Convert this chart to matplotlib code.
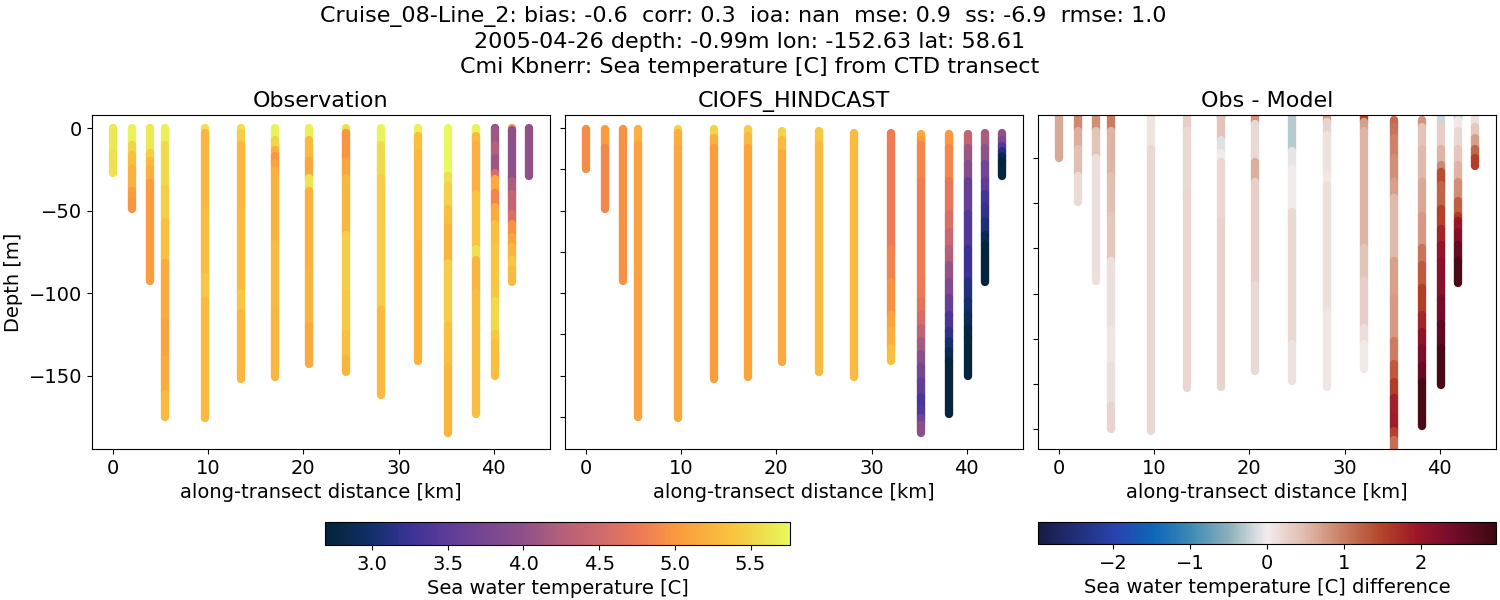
import matplotlib
matplotlib.use("Agg")
import matplotlib.pyplot as plt
from matplotlib.collections import LineCollection
from matplotlib.colors import LinearSegmentedColormap, Normalize
from matplotlib.cm import ScalarMappable

# along-transect position of each cast [km]
dist = [0, 2.0, 3.87, 5.48, 9.68, 13.48, 16.98, 20.6, 24.5, 28.2, 32.0, 35.2, 38.1, 40.1, 41.9, 43.7]

# each cast: band edges [m] and the value of each band
obs_depth = [
    [0, -15, -27],
    [0, -10, -16, -25, -38, -44, -49],
    [0, -15, -20, -25, -33, -92.5],
    [0, -10, -37, -57, -82, -118, -140, -161, -175],
    [0, -3, -50, -90, -105, -176],
    [0, -3, -10, -50, -100, -112, -152],
    [0, -7, -13, -17, -21, -26, -70, -110, -151],
    [0, -7, -20, -30, -38, -87, -120, -143],
    [0, -3, -20, -30, -65, -100, -125, -140, -148],
    [0, -10, -30, -60, -110, -162],
    [0, -5, -15, -70, -141],
    [0, -29, -35, -49, -60, -82, -120, -145, -185],
    [0, -5, -10, -40, -73, -80, -100, -173],
    [0, -1, -10, -18, -27, -31, -39, -48, -58, -72, -105, -125, -130, -150],
    [0, -1, -32, -40, -52, -58, -66, -72, -80, -86, -93.5],
    [0, -29],
]
obs_temp = [
    [5.65, 5.6],
    [5.72, 5.5, 5.35, 5.2, 5.05, 4.98],
    [5.65, 5.45, 5.3, 5.2, 5.03],
    [5.7, 5.55, 5.45, 5.35, 5.17, 5.1, 5.17, 5.3],
    [5.6, 5.28, 5.32, 5.4, 5.3],
    [5.6, 5.45, 5.27, 5.3, 5.4, 5.27],
    [5.72, 5.5, 5.2, 4.98, 5.1, 5.22, 5.3, 5.27],
    [5.7, 5.3, 5.12, 5.62, 5.22, 5.25, 5.17],
    [5.6, 4.98, 5.1, 5.27, 5.45, 5.42, 5.35, 5.25],
    [5.72, 5.55, 5.47, 5.45, 5.3],
    [5.7, 5.35, 5.27, 5.22],
    [5.75, 5.6, 5.5, 5.35, 5.25, 5.45, 5.35, 5.25],
    [5.72, 5.3, 5.2, 5.38, 5.6, 5.25, 5.32],
    [3.95, 4.1, 4.25, 4.1, 4.6, 5.15, 4.85, 5.15, 5.35, 5.4, 5.55, 5.4, 5.35],
    [5.0, 3.98, 4.2, 4.4, 4.6, 4.95, 5.1, 5.25, 5.4, 5.3],
    [4.0],
]

model_depth = [
    [-0.4, -25],
    [-0.4, -12, -49],
    [-0.4, -92.5],
    [-0.4, -10, -175],
    [-0.4, -3, -12, -176],
    [-0.4, -6, -12, -152],
    [-0.4, -5, -12, -151],
    [-1.8, -7, -15, -142],
    [-1.8, -10, -148],
    [-2.8, -151],
    [-2.8, -73, -93, -113, -123, -133, -141],
    [-3.7, -7, -10, -32, -93, -105, -113, -121, -129, -137, -145, -153, -163, -170, -176, -180, -185],
    [-3.7, -12, -32, -52, -63, -73, -83, -93, -103, -113, -123, -129, -135, -141, -173],
    [-3.7, -12, -22, -32, -52, -73, -93, -105, -113, -121, -127, -150],
    [-2.8, -12, -22, -32, -40, -48, -56, -65, -71, -93.5],
    [-2.8, -7, -11, -14, -17, -20, -29],
]
model_temp = [
    [4.92],
    [5.05, 4.88],
    [4.95],
    [5.2, 5.08],
    [5.5, 5.2, 5.13],
    [5.5, 5.2, 5.05],
    [5.45, 5.3, 5.1],
    [5.5, 5.3, 5.15],
    [5.42, 5.3],
    [5.3],
    [4.78, 4.85, 4.95, 5.1, 5.2, 5.35],
    [5.15, 5.0, 4.88, 4.8, 4.76, 4.68, 4.55, 4.35, 4.15, 3.95, 3.75, 3.55, 3.35, 3.4, 3.7, 3.95],
    [5.0, 4.88, 4.72, 4.6, 4.45, 4.25, 4.05, 3.85, 3.6, 3.35, 3.2, 3.02, 2.85, 2.72],
    [4.4, 4.1, 3.9, 3.6, 3.4, 3.25, 3.1, 3.0, 2.88, 2.76, 2.72],
    [4.2, 4.0, 3.7, 3.5, 3.3, 3.2, 3.05, 2.85, 2.72],
    [4.0, 3.8, 3.4, 3.1, 2.85, 2.72],
]

diff_depth = [
    [0, -25],
    [0, -10, -20, -35, -49.5],
    [0, -10, -25, -93],
    [0, -10, -35, -57, -82, -120, -140, -162, -175],
    [0, -20, -176],
    [0, -10, -45, -152.5],
    [0, -3, -15, -22, -27, -60, -151.5],
    [0, -6, -27, -38, -95, -143],
    [0, -2, -21, -31, -55, -128, -148.5],
    [0, -5, -12, -35, -40, -110, -151.5],
    [0, -5, -10, -75, -93, -119, -128, -141.5],
    [-4, -8, -14, -25, -38, -47, -82, -103, -126, -139, -149, -158, -169, -176, -181, -186],
    [-4, -8, -20, -38, -57, -75, -84, -97, -112, -121, -130, -140, -149, -173],
    [-1.2, -8, -20, -29, -33, -40, -53, -64, -73, -82, -103, -117, -130, -150.5],
    [-1.2, -4, -10, -20, -29, -38, -49, -57, -60, -66, -73, -82, -94],
    [0, -8, -14, -20, -25, -29.5],
]
diff_temp = [
    [0.65],
    [0.9, 0.6, 0.45, 0.18],
    [0.85, 0.4, 0.12],
    [1.0, 0.55, 0.45, 0.35, 0.12, 0.05, 0.12, 0.25],
    [0.08, 0.2],
    [0.3, 0.2, 0.22],
    [1.4, 0.4, -0.1, 0.02, 0.2, 0.25],
    [0.8, 0.2, 0.6, 0.3, 0.2],
    [0.2, -0.3, -0.05, 0.0, 0.2, 0.1],
    [0.7, 0.25, 0.1, 0.03, 0.12, 0.05],
    [1.5, 0.7, 0.55, 0.4, 0.3, 0.15, 0.03],
    [1.15, 1.05, 0.95, 0.85, 0.7, 0.5, 0.7, 0.75, 1.0, 1.3, 1.55, 1.85, 1.9, 1.5, 1.1],
    [0.8, 0.4, 0.5, 0.65, 0.75, 1.05, 1.3, 1.55, 1.8, 2.1, 2.35, 2.55, 2.85],
    [-0.2, 0.3, 0.55, 0.9, 1.4, 1.2, 1.5, 1.8, 2.05, 2.2, 2.4, 2.65, 2.85],
    [-0.3, 0.03, 0.2, 0.35, 0.55, 0.85, 1.25, 1.6, 2.0, 2.25, 2.6, 2.85],
    [0.1, 0.35, 0.7, 1.2, 1.55],
]

temp_range = (2.69, 5.76)
diff_range = (-2.98, 2.98)

title = ("Cruise_08-Line_2: bias: -0.6  corr: 0.3  ioa: nan  mse: 0.9  ss: -6.9  rmse: 1.0  \n"
         "2005-04-26 depth: -0.99m lon: -152.63 lat: 58.61\n"
         "Cmi Kbnerr: Sea temperature [C] from CTD transect")

# cmocean is not available, so its two maps are rebuilt by eye
thermal = LinearSegmentedColormap.from_list("thermal", [
    (0.0, "#04233a"), (0.1, "#12306b"), (0.18, "#3a3295"), (0.25, "#5a3a9a"),
    (0.43, "#8f5289"), (0.51, "#b5607a"), (0.6, "#d26b6b"), (0.68, "#ee7a55"),
    (0.76, "#fb9a3d"), (0.87, "#f9c13f"), (0.95, "#eee050"), (1.0, "#e7fa5a")])
balance = LinearSegmentedColormap.from_list("balance", [
    (0.0, "#181c43"), (0.17, "#2a43b0"), (0.25, "#0d66b8"), (0.33, "#3a88b5"),
    (0.42, "#8fb2bc"), (0.47, "#d0d8db"), (0.5, "#f1ecec"), (0.58, "#e0bdb0"),
    (0.67, "#c97b60"), (0.75, "#b5442a"), (0.83, "#9c1628"), (0.9, "#780c2c"),
    (1.0, "#3c0911")])

plt.rcParams["font.size"] = 14


def draw_casts(ax, depths, values, cmap, norm):
    for x, edges, vals in zip(dist, depths, values):
        segs = [[(x, edges[i]), (x, edges[i + 1])] for i in range(len(vals))]
        lc = LineCollection(segs, cmap=cmap, norm=norm, linewidths=6, capstyle="round")
        lc.set_array(vals)
        ax.add_collection(lc)


fig = plt.figure(figsize=(15, 6), dpi=100)
W, H = 1500, 600


def px_axes(left, top, right, bottom):
    return fig.add_axes([left / W, 1 - bottom / H, (right - left) / W, (bottom - top) / H])


ax1 = px_axes(92, 115, 550, 449)
ax2 = px_axes(565, 115, 1023, 449)
ax3 = px_axes(1038, 115, 1496, 449)

temp_norm = Normalize(*temp_range)
diff_norm = Normalize(*diff_range)

draw_casts(ax1, obs_depth, obs_temp, thermal, temp_norm)
draw_casts(ax2, model_depth, model_temp, thermal, temp_norm)
draw_casts(ax3, diff_depth, diff_temp, balance, diff_norm)

ax1.set_title("Observation", fontsize=16)
ax2.set_title("CIOFS_HINDCAST", fontsize=16)
ax3.set_title("Obs - Model", fontsize=16)

for ax in (ax1, ax2, ax3):
    ax.set_xlim(-2.18, 45.9)
    ax.set_xlabel("along-transect distance [km]")

ax1.set_ylim(-194.5, 8)
ax1.set_yticks([0, -50, -100, -150])
ax1.set_yticklabels(["0", "\u221250", "\u2212100", "\u2212150"])
ax1.set_ylabel("Depth [m]", labelpad=4)

ax2.set_ylim(-194.5, 8)
ax2.set_yticks([0, -25, -50, -75, -100, -125, -150, -175])
ax2.set_yticklabels([])

ax3.set_ylim(-186, -1.2)
ax3.set_yticks([-25, -50, -75, -100, -125, -150, -175])
ax3.set_yticklabels([])

fig.suptitle(title, fontsize=16, x=0.5, y=0.99, linespacing=1.32)

cax1 = px_axes(325, 522, 790, 545)
cb1 = fig.colorbar(ScalarMappable(temp_norm, thermal), cax=cax1, orientation="horizontal")
cb1.set_ticks([3.0, 3.5, 4.0, 4.5, 5.0, 5.5])
cb1.set_label("Sea water temperature [C]")

cax2 = px_axes(1038, 522, 1496, 544)
cb2 = fig.colorbar(ScalarMappable(diff_norm, balance), cax=cax2, orientation="horizontal")
cb2.set_ticks([-2, -1, 0, 1, 2])
cb2.set_label("Sea water temperature [C] difference")

fig.savefig("out.png", dpi=100)
